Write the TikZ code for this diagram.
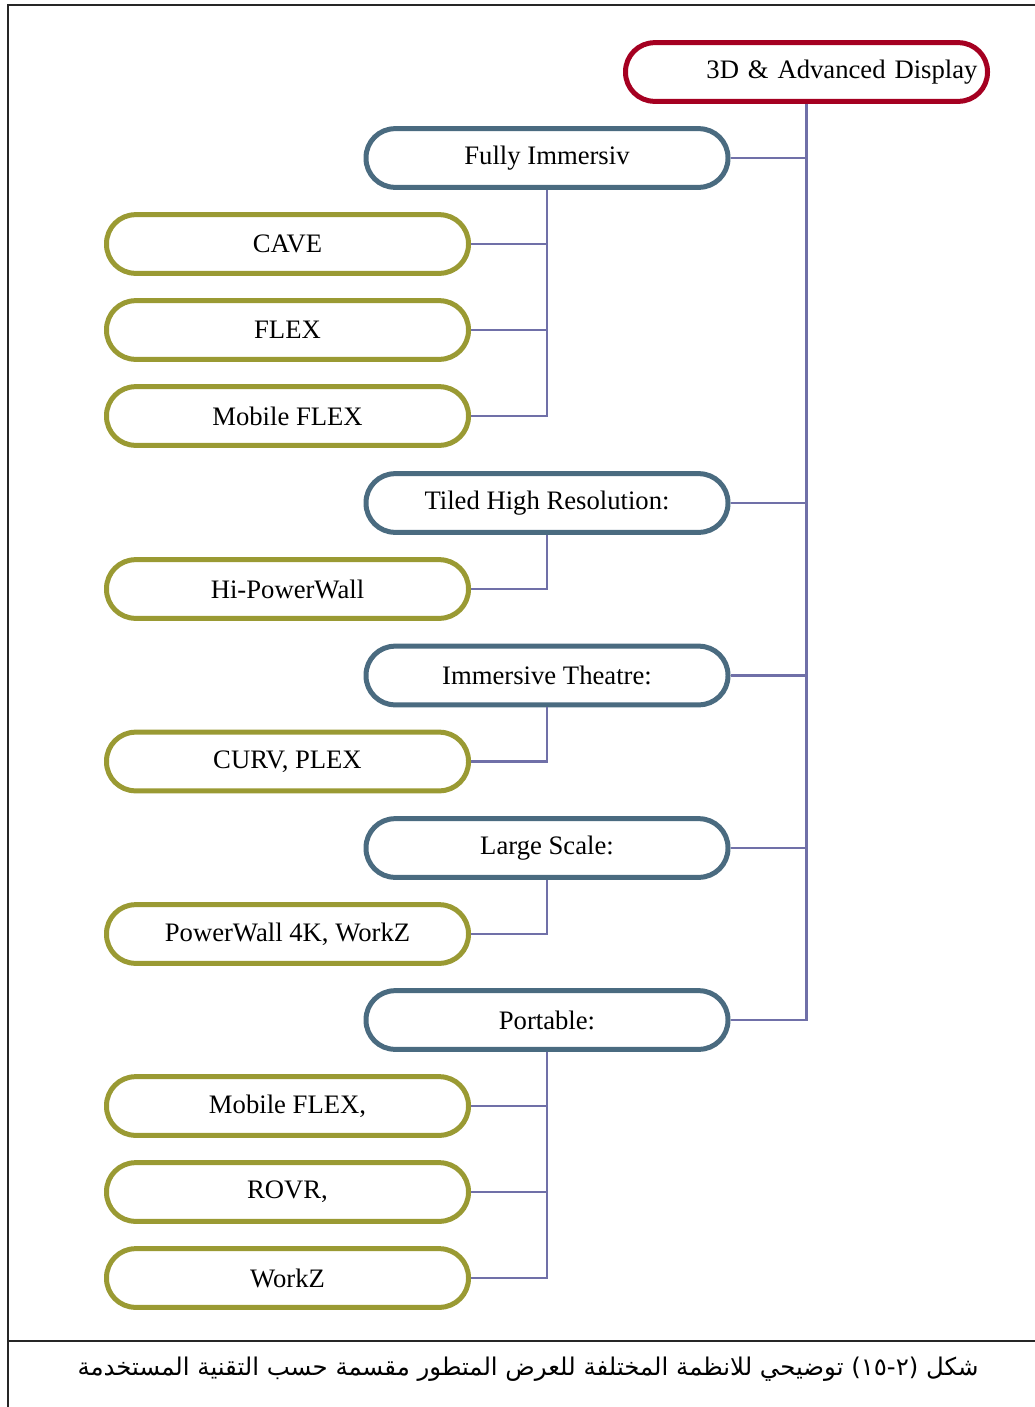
\documentclass[tikz,border=0pt]{standalone}
\usepackage{fontspec}
\setmainfont{Liberation Serif}
\newfontfamily\arabicfont[Script=Arabic]{DejaVu Sans}
\TeXXeTstate=1
\usetikzlibrary{positioning}
\definecolor{rootred}{HTML}{A50021}
\definecolor{groupblue}{HTML}{4A6B80}
\definecolor{leafolive}{HTML}{9A9A33}
\definecolor{linkpurple}{HTML}{7070A8}
\tikzset{
  pill/.style={draw, line width=3.75pt, rounded corners=21.75pt, minimum width=271.5pt,
    minimum height=44pt, fill=white, font=\fontsize{20}{23}\selectfont},
  rootbox/.style={pill, draw=rootred, text width=256.5pt, align=right, inner xsep=7.5pt},
  groupbox/.style={pill, draw=groupblue},
  leafbox/.style={pill, draw=leafolive},
  link/.style={draw=linkpurple, line width=1.6pt}
}

\begin{document}
\begin{tikzpicture}[x=0.75pt,y=-0.75pt]
  \useasboundingbox (0,0) rectangle (1035,1407);
  % frame
  \draw[line width=1.6pt,black!85] (1035,5) -- (8,5) -- (8,1407);
  \draw[line width=1.6pt,black!85] (8,1341) -- (1035,1341);

  \node[rootbox]  (root)     at (806.5,72)   {3D \& Advanced Display};
  \node[groupbox] (immersiv) at (547,158)    {Fully Immersiv};
  \node[leafbox]  (cave)     at (287.5,244)  {CAVE};
  \node[leafbox]  (flex)     at (287.5,330)  {FLEX};
  \node[leafbox]  (mflex)    at (287.5,416)  {Mobile FLEX};
  \node[groupbox] (tiled)    at (547,503)    {Tiled High Resolution:};
  \node[leafbox]  (hipower)  at (287.5,589)  {Hi-PowerWall};
  \node[groupbox] (theatre)  at (547,675.5)  {Immersive Theatre:};
  \node[leafbox]  (curv)     at (287.5,761.5){CURV, PLEX};
  \node[groupbox] (large)    at (547,848)    {Large Scale:};
  \node[leafbox]  (power4k)  at (287.5,934)  {PowerWall 4K, WorkZ};
  \node[groupbox] (portable) at (547,1020)   {Portable:};
  \node[leafbox]  (pmflex)   at (287.5,1106) {Mobile FLEX,};
  \node[leafbox]  (rovr)     at (287.5,1192) {ROVR,};
  \node[leafbox]  (workz)    at (287.5,1278) {WorkZ};

  % links
  \foreach \g in {immersiv,tiled,theatre,large,portable}
    \draw[link] (root.south) |- (\g.east);
  \foreach \l in {cave,flex,mflex}
    \draw[link] (immersiv.south) |- (\l.east);
  \draw[link] (tiled.south) |- (hipower.east);
  \draw[link] (theatre.south) |- (curv.east);
  \draw[link] (large.south) |- (power4k.east);
  \foreach \l in {pmflex,rovr,workz}
    \draw[link] (portable.south) |- (\l.east);

  \node (caption) at (528,1369) {\arabicfont\fontsize{18.3}{21}\selectfont\beginR شكل (٢-١٥) توضيحي للانظمة المختلفة للعرض المتطور مقسمة حسب التقنية المستخدمة\endR};
\end{tikzpicture}
\end{document}
